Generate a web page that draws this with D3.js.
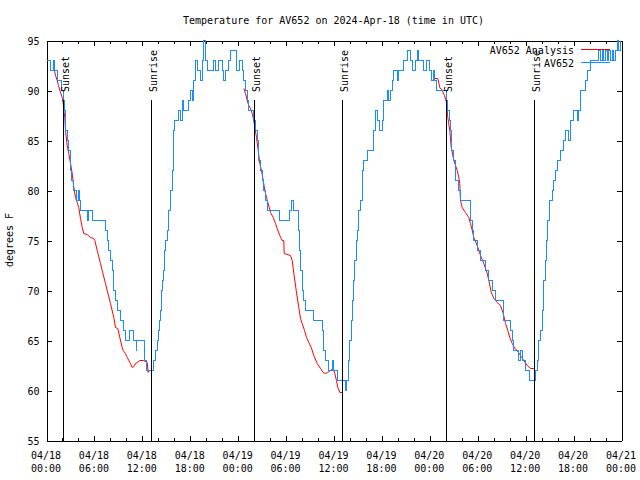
<!DOCTYPE html>
<html><head><meta charset="utf-8">
<script src="https://cdn.jsdelivr.net/npm/d3@7"></script>
<style>
body{margin:0;background:#fff}
text{font-family:"DejaVu Sans Mono",monospace;font-size:10px;fill:#000}
</style>
</head><body>
<svg id="chart" width="640" height="480"></svg>
<script>
// ---- data (hours since 2024-04-18 00:00 UTC, degrees F) ----
const startTime = "2024-04-18T00:00:00Z";
const titleText = "Temperature for AV652 on 2024-Apr-18 (time in UTC)";
const yLabel = "degrees F";
const seriesNames = ["AV652 Analysis", "AV652"];

const obsSeries = [
[0,93],[0.25,93],[0.50,92],[0.69,92],[0.88,93],[1.00,92],[1.25,92],[1.38,91],[1.63,91],[1.88,90],
[2.07,89],[2.19,89],[2.25,88],[2.38,86],[2.59,85],[2.75,84],[3.01,82],[3.19,81],[3.42,80],[3.63,80],
[3.76,79],[3.88,79],[4.04,80],[4.13,79],[4.26,78],[5.01,78],[5.13,77],[5.26,78],[5.51,78],[5.76,77],
[7.26,77],[7.39,76],[7.64,75],[7.76,74],[8.01,73],[8.23,72],[8.43,70],[8.64,69],[8.85,68],[9.05,68],
[9.27,67],[9.60,67],[9.70,66],[9.89,65],[10.18,65],[10.39,66],[10.64,66],[10.89,65],[11.23,64],[11.33,65],
[12.11,65],[12.31,63],[12.48,62],[13.24,62],[13.44,63],[13.65,64],[13.86,65],[14.02,66],[14.15,67],[14.28,68],
[14.40,70],[14.53,71],[14.69,72],[14.78,74],[14.90,75],[15.11,76],[15.31,78],[15.53,80],[15.74,82],[15.94,86],
[16.07,87],[16.37,87],[16.47,88],[16.65,88],[16.78,87],[16.99,89],[17.19,88],[17.62,88],[17.78,89],[18.03,90],
[18.24,89],[18.44,91],[18.66,93],[18.87,92],[19.07,92],[19.28,91],[19.50,93],[19.70,95],[19.91,93],[20.12,92],
[20.75,92],[20.95,93],[21.22,92],[21.58,93],[21.70,93],[22.00,92],[22.13,91],[22.41,92],[22.83,93],[23.04,94],
[23.58,94],[23.75,92],[23.98,92],[24.21,93],[24.51,92],[24.71,91],[24.92,90],[25.13,89],[25.33,88],[25.54,88],
[25.76,88],[25.96,87],[26.17,86],[26.38,85],[26.58,83],[26.80,82],[27.01,81],[27.21,80],[27.42,79],[27.64,78],
[27.84,78],[29.09,78],[29.21,77],[30.22,77],[30.47,78],[30.62,79],[30.77,79],[30.97,78],[31.39,78],[31.52,76],
[31.68,74],[31.81,72],[32.02,70],[32.22,69],[32.43,68],[33.40,68],[33.47,67],[34.31,67],[34.52,66],[34.72,64],
[34.94,63],[35.15,63],[35.35,62],[35.56,62],[35.77,63],[35.98,62],[36.19,62],[36.40,61],[37.23,61],[37.44,60],
[37.57,61],[37.78,63],[37.98,65],[38.15,67],[38.28,69],[38.48,71],[38.61,73],[38.82,75],[38.91,76],[39.11,78],
[39.32,79],[39.53,80],[39.61,82],[39.73,83],[39.95,83],[40.16,84],[40.78,84],[40.98,86],[41.20,88],[41.41,87],
[41.70,86],[42.04,87],[42.24,89],[42.45,89],[42.66,90],[42.86,89],[43.08,90],[43.29,91],[43.49,92],[43.70,92],
[43.91,91],[44.12,92],[44.54,92],[44.74,93],[44.95,93],[45.17,94],[45.37,94],[45.58,93],[45.87,92],[46.21,93],
[46.42,94],[46.58,93],[46.83,93],[47.25,92],[47.58,93],[47.75,93],[48.00,92],[48.17,91],[48.42,92],[48.59,91],
[48.84,90],[49.75,90],[49.96,90],[50.09,89],[50.25,88],[50.46,87],[50.59,86],[50.71,84],[50.88,84],[51.00,83],
[51.22,81],[51.43,81],[51.63,80],[51.84,79],[52.88,79],[53.09,77],[53.31,76],[53.51,75],[53.93,74],[54.13,74],
[54.35,73],[54.85,73],[54.97,72],[55.19,72],[55.39,71],[55.81,70],[56.22,69],[56.64,69],[57.06,69],[57.26,67],
[57.48,67],[57.89,67],[58.10,66],[58.32,65],[58.52,64],[58.94,64],[59.07,63],[59.35,64],[59.57,63],[59.98,62],
[60.19,62],[60.52,61],[61.15,61],[61.23,62],[61.45,63],[61.65,65],[61.86,66],[62.07,68],[62.27,71],[62.48,73],
[62.61,75],[62.77,77],[63.02,79],[63.32,80],[63.52,81],[63.74,82],[63.95,83],[64.15,83],[64.36,84],[64.58,84],
[64.78,85],[64.99,86],[65.20,86],[65.40,85],[65.62,87],[65.83,87],[66.03,88],[66.24,88],[66.45,87],[66.65,88],
[66.87,90],[67.37,90],[67.49,91],[67.71,92],[67.91,92],[68.12,93],[68.33,93],[68.53,93],[68.74,93],[69.16,94],
[69.37,93],[69.58,94],[69.78,93],[70.00,94],[70.21,93],[70.41,94],[70.62,93],[70.83,94],[71.04,93],[71.25,94],
[71.46,95],[71.66,94],[71.87,95]
];

const analysisNight1 = [
[0.84,92],[1.00,92],[1.13,91.5],[1.34,91],[1.50,90.5],[1.75,89.8],[1.97,89.3],[2.09,88.7],[2.17,88],[2.29,87.3],
[2.38,86],[2.59,84.5],[2.79,83.7],[3.01,82.7],[3.22,81.7],[3.42,80.3],[3.63,79.3],[3.84,78.8],[4.04,78.3],[4.26,77.2],
[4.47,76.3],[4.67,75.7],[5.10,75.6],[5.51,75.3],[5.92,75.2],[6.05,75],[6.35,74],[6.76,72.7],[6.97,72],[7.39,70.7],
[7.60,70],[8.01,68.7],[8.43,67.3],[8.64,66.3],[8.93,66.2],[9.18,65.3],[9.48,64.3],[9.60,64],[9.89,63.7],[10.11,63.3],
[10.52,62.7],[10.73,62.3],[10.93,62.4],[11.14,62.7],[11.36,62.8],[11.68,63],[12.18,63],[12.61,62.8],[12.73,61.8],[12.90,62]
];
const analysisNight2 = [
[24.71,90.2],[24.92,89.7],[25.13,89],[25.33,88.5],[25.54,88.2],[25.76,87.7],[25.96,87],[26.08,86.3],[26.30,85.3],[26.51,84],
[26.71,82.7],[26.92,82],[27.14,81],[27.34,80],[27.55,79.3],[27.76,78.7],[28.05,77.8],[28.39,77.3],[28.68,76.7],[28.89,76.2],
[29.21,75.5],[29.51,75],[29.71,75],[29.76,73.7],[30.55,73.5],[30.77,73],[30.97,71.7],[31.27,70],[31.59,68.3],[31.81,67.2],
[32.02,66.7],[32.31,66],[32.56,65.3],[32.85,64.8],[33.15,64.3],[33.47,63.5],[33.90,62.7],[34.31,62.2],[34.65,61.8],[34.94,61.7],
[35.22,61.8],[35.56,62],[35.90,62.2],[36.10,61.7],[36.31,61],[36.48,60.3],[36.73,59.8],[37.03,59.8]
];
const analysisNight3 = [
[48.50,91.2],[49.00,91.2],[49.25,90.3],[49.55,90],[49.84,89.5],[50.09,88.8],[50.25,87.3],[50.50,86],[50.68,84.3],[50.93,83.3],
[51.13,82.7],[51.43,82],[51.63,81.3],[51.75,80.7],[51.84,79],[52.05,78.3],[52.46,77.8],[52.88,77.3],[53.09,76.7],[53.31,76],
[53.51,75.3],[53.93,74.5],[54.35,73.5],[54.76,72.7],[55.19,71.7],[55.39,71],[55.69,69.8],[56.02,69.2],[56.44,68.8],[56.85,68.5],
[57.19,67.7],[57.48,66.7],[57.76,66],[58.01,65.3],[58.32,64.7],[58.64,64.2],[58.94,64],[59.35,63.5],[59.77,63],[60.19,62.5],
[60.61,62.2],[61.02,62.2]
];

const sunsetHours = [2.17, 26.08, 50.13];
const sunriseHours = [13.20, 37.10, 61.15];
const yTickValues = [55, 60, 65, 70, 75, 80, 85, 90, 95];
const xMajorHours = [0, 6, 12, 18, 24, 30, 36, 42, 48, 54, 60, 66, 72];
const xMinorHours = d3.range(0, 73, 2);
const markerTop = 89.1;

// ---- drawing ----
const W = 640, H = 480;
const m = {left: 46, right: 621, top: 40, bottom: 440};
const t0 = new Date(startTime);
const toDate = h => new Date(t0.getTime() + h * 3600e3);

const x = d3.scaleUtc().domain([toDate(0), toDate(72)]).range([m.left, m.right]);
const y = d3.scaleLinear().domain([55, 95]).range([m.bottom, m.top]);

const svg = d3.select("#chart");
svg.append("rect").attr("width", W).attr("height", H).attr("fill", "#fff");
const g = svg.append("g").attr("transform", "translate(0.5,0.5)");

const colRed = "#ff0000", colBlue = "#1a8cff";

// axes tick marks (inward, mirrored)
function axisStyle(sel) {
  sel.selectAll("path").attr("stroke", "#000").attr("shape-rendering", "crispEdges");
  sel.selectAll("line").attr("stroke", "#000").attr("shape-rendering", "crispEdges");
  sel.selectAll("text").remove();
}
const xMinorDates = xMinorHours.filter(h => h % 6 !== 0).map(toDate);
const xMajorDates = xMajorHours.map(toDate);

g.append("g").attr("transform", `translate(0,${m.bottom})`)
  .call(d3.axisBottom(x).tickValues(xMinorDates).tickSizeInner(-3).tickSizeOuter(0)).call(axisStyle);
g.append("g").attr("transform", `translate(0,${m.bottom})`)
  .call(d3.axisBottom(x).tickValues(xMajorDates).tickSizeInner(-5).tickSizeOuter(0)).call(axisStyle);
g.append("g").attr("transform", `translate(0,${m.top})`)
  .call(d3.axisTop(x).tickValues(xMinorDates).tickSizeInner(-3).tickSizeOuter(0)).call(axisStyle);
g.append("g").attr("transform", `translate(0,${m.top})`)
  .call(d3.axisTop(x).tickValues(xMajorDates).tickSizeInner(-5).tickSizeOuter(0)).call(axisStyle);
g.append("g").attr("transform", `translate(${m.right},0)`)
  .call(d3.axisRight(y).tickValues(yTickValues).tickSizeInner(-5).tickSizeOuter(0)).call(axisStyle);

const leftAxis = g.append("g").attr("transform", `translate(${m.left},0)`)
  .call(d3.axisLeft(y).tickValues(yTickValues).tickSizeInner(-5).tickSizeOuter(0).tickPadding(7));
leftAxis.selectAll("path,line").attr("stroke", "#000").attr("shape-rendering", "crispEdges");
leftAxis.selectAll("text").attr("font-family", null).attr("font-size", null).attr("fill", "#000").attr("dy", "0.36em");
leftAxis.attr("font-family", null).attr("font-size", null);

// x labels (two lines)
const fmtD = d3.utcFormat("%m/%d"), fmtT = d3.utcFormat("%H:%M");
const xl = svg.append("g").selectAll("text").data(xMajorDates).join("text")
  .attr("x", d => x(d)).attr("text-anchor", "middle");
xl.append("tspan").attr("x", d => x(d)).attr("y", 458.5).text(d => fmtD(d));
xl.append("tspan").attr("x", d => x(d)).attr("y", 471.5).text(d => fmtT(d));

// title and y label
svg.append("text").attr("x", (m.left + m.right) / 2).attr("y", 24).attr("text-anchor", "middle").text(titleText);
svg.append("text").attr("transform", `translate(12.5,${(m.top + m.bottom) / 2}) rotate(-90)`)
  .attr("text-anchor", "middle").text(yLabel);

// series
const redLine = d3.line().x(d => x(toDate(d[0]))).y(d => y(d[1])).curve(d3.curveLinear);
const blueLine = d3.line().x(d => x(toDate(d[0]))).y(d => y(d[1])).curve(d3.curveStepAfter);

[analysisNight1, analysisNight2, analysisNight3].forEach(s => {
  g.append("path").datum(s).attr("d", redLine).attr("fill", "none")
    .attr("stroke", colRed).attr("stroke-width", 1);
});
g.append("path").datum(obsSeries).attr("d", blueLine).attr("fill", "none")
  .attr("stroke", colBlue).attr("stroke-width", 1).attr("shape-rendering", "crispEdges");

// sunset / sunrise markers
const markers = sunsetHours.map(h => ({h, label: "Sunset"}))
  .concat(sunriseHours.map(h => ({h, label: "Sunrise"})));
g.selectAll(".mk").data(markers).join("line").attr("class", "mk")
  .attr("x1", d => Math.round(x(toDate(d.h)))).attr("x2", d => Math.round(x(toDate(d.h))))
  .attr("y1", y(55)).attr("y2", y(markerTop))
  .attr("stroke", "#000").attr("shape-rendering", "crispEdges");
svg.selectAll(".mkl").data(markers).join("text").attr("class", "mkl")
  .attr("transform", d => `translate(${Math.round(x(toDate(d.h))) + 5.5},${y(markerTop) - 7}) rotate(-90)`)
  .attr("text-anchor", "start").text(d => d.label);

// legend
const legend = [
  {name: seriesNames[0], color: colRed, y: 49},
  {name: seriesNames[1], color: colBlue, y: 62}
];
const lg = svg.append("g");
lg.selectAll("text").data(legend).join("text")
  .attr("x", 574).attr("y", d => d.y + 4.5).attr("text-anchor", "end").text(d => d.name);
lg.selectAll("line").data(legend).join("line")
  .attr("x1", 581).attr("x2", 610).attr("y1", d => d.y + 0.5).attr("y2", d => d.y + 0.5)
  .attr("stroke", d => d.color).attr("shape-rendering", "crispEdges");
</script>
</body></html>
